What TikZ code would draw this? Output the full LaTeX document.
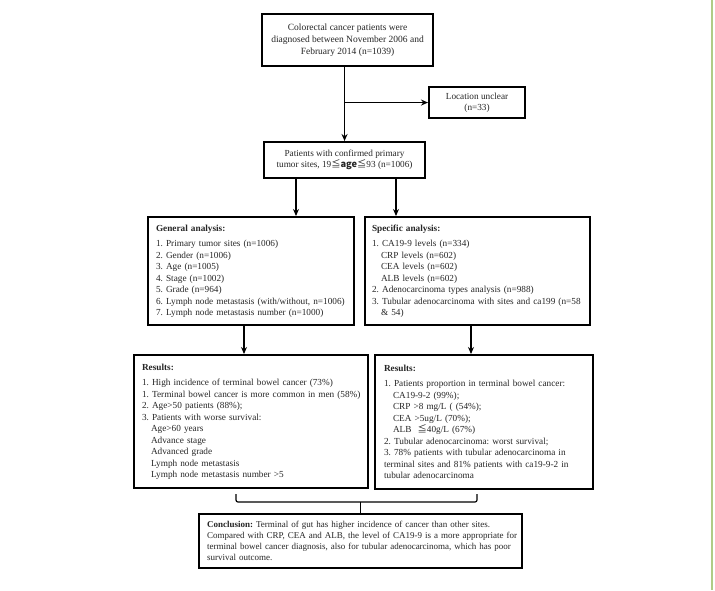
\documentclass[tikz,border=0pt]{standalone}
\usepackage{fontspec}
\setmainfont{Liberation Serif}
\newfontfamily\cjk{Noto Sans CJK SC}
\usetikzlibrary{arrows.meta}
\newcommand{\ind}{\hspace*{9pt}}
\begin{document}
\frenchspacing
\begin{tikzpicture}[x=1pt,y=-1pt,
  box/.style={draw=black, line width=2.1pt, inner sep=0pt, anchor=north west,
    text=black!85, font=\fontsize{9.25}{11.5}\selectfont\frenchspacing},
  cbox/.style={box, align=center},
  lbox/.style={box, align=left},
  arr/.style={line width=1.2pt, -{Stealth[length=7pt,width=6pt]}},
  ln/.style={line width=1.2pt}]
\useasboundingbox (0,0) rectangle (715,590);
\fill[white] (0,0) rectangle (715,590);
\draw[line width=1.6pt, color={rgb,255:red,176;green,204;blue,134}] (712,0) -- (712,590);

\node[cbox, minimum width=171pt, minimum height=52pt,
  font=\fontsize{9.5}{12}\selectfont\frenchspacing] (b1) at (261,13)
  {Colorectal cancer patients were\\ diagnosed between November 2006 and\\ February 2014 (n=1039)};
\node[cbox, minimum width=96pt, minimum height=31pt] (loc) at (428,86)
  {Location unclear\\ (n=33)};
\node[cbox, minimum width=161pt, minimum height=36pt] (b2) at (263,141)
  {Patients with confirmed primary\\ tumor sites, 19{\cjk ≦\textbf{age}≦}93 (n=1006)};

\node[lbox, minimum width=206pt, minimum height=108pt, text width=190pt] (gen) at (147,216)
  {\textbf{General analysis:}\\[4pt]
   1. Primary tumor sites (n=1006)\\
   2. Gender (n=1006)\\
   3. Age (n=1005)\\
   4. Stage (n=1002)\\
   5. Grade (n=964)\\
   \mbox{6. Lymph node metastasis (with/without, n=1006)}\\
   7. Lymph node metastasis number (n=1000)};
\node[lbox, minimum width=225pt, minimum height=108pt, text width=211pt] (spec) at (364,216)
  {\textbf{Specific analysis:}\\[4pt]
   1. CA19-9 levels (n=334)\\
   \ind CRP levels (n=602)\\
   \ind CEA levels (n=602)\\
   \ind ALB levels (n=602)\\
   2. Adenocarcinoma types analysis (n=988)\\
   \mbox{3. Tubular adenocarcinoma with sites and ca199 (n=58}\\
   \ind \& 54)};

\node[lbox, minimum width=234pt, minimum height=133pt, text width=218pt] (resL) at (133,354)
  {\textbf{Results:}\\[4pt]
   1. High incidence of terminal bowel cancer (73\%)\\
   \mbox{1. Terminal bowel cancer is more common in men (58\%)}\\
   2. Age>50 patients (88\%);\\
   3. Patients with worse survival:\\
   \ind Age>60 years\\
   \ind Advance stage\\
   \ind Advanced grade\\
   \ind Lymph node metastasis\\
   \ind Lymph node metastasis number >5};
\node[lbox, minimum width=218pt, minimum height=134pt, text width=200pt] (resR) at (374,354)
  {\textbf{Results:}\\[4pt]
   \mbox{1. Patients proportion in terminal bowel cancer:}\\
   \ind CA19-9-2 (99\%);\\
   \ind CRP >8 mg/L ( (54\%);\\
   \ind CEA >5ug/L (70\%);\\
   \ind ALB \ {\cjk ≦}40g/L (67\%)\\
   2. Tubular adenocarcinoma: worst survival;\\
   \mbox{3. 78\% patients with tubular adenocarcinoma in}\\
   \mbox{terminal sites and 81\% patients with ca19-9-2 in}\\
   tubular adenocarcinoma};

\node[lbox, minimum width=323pt, minimum height=54pt, text width=307pt,
  font=\fontsize{9}{11}\selectfont\frenchspacing] (conc) at (198,513)
  {\mbox{\textbf{Conclusion:} Terminal of gut has higher incidence of cancer than other sites.}\\
   \mbox{Compared with CRP, CEA and ALB, the level of CA19-9 is a more appropriate for}\\
   \mbox{terminal bowel cancer diagnosis, also for tubular adenocarcinoma, which has poor}\\
   survival outcome.};

% connectors
\draw[arr] (b1.south -| b2.north) -- (b2.north);
\draw[arr] (b2.north |- loc.west) -- (loc.west);
\coordinate (g1) at ([xshift=33pt]b2.south west);
\coordinate (g2) at ([xshift=133pt]b2.south west);
\draw[arr] (g1) -- (g1 |- gen.north);
\draw[arr] (g2) -- (g2 |- spec.north);
\coordinate (g3) at ([xshift=97pt]gen.south west);
\coordinate (g4) at ([xshift=107pt]spec.south west);
\draw[arr] (g3) -- (g3 |- resL.north);
\draw[arr] (g4) -- (g4 |- resR.north);
% bracket
\coordinate (bl) at (236,494);
\coordinate (brr) at (477,494);
\coordinate (bh) at (0,502);
\draw[ln, rounded corners=2pt] (bl) -- (bl |- bh) -- (brr |- bh) -- (brr);
\draw[ln] (conc.north |- bh) -- (conc.north);
\end{tikzpicture}
\end{document}
